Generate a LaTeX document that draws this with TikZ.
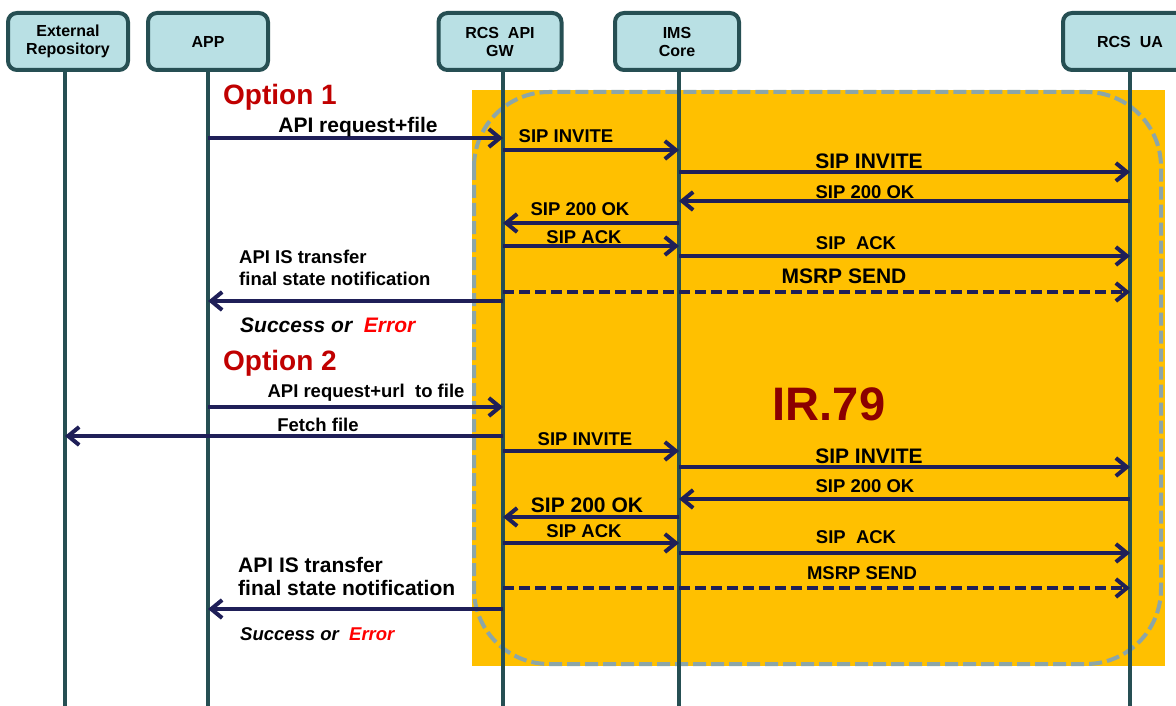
\documentclass[tikz,border=0pt]{standalone}
\usepackage{fontspec}
\setmainfont{Liberation Sans}
\usetikzlibrary{arrows.meta}
\definecolor{lifeteal}{HTML}{264F53}
\definecolor{actorblue}{HTML}{B9E0E4}
\definecolor{msgnavy}{HTML}{1F1F58}
\definecolor{zoneorange}{HTML}{FFC000}
\definecolor{zonegray}{HTML}{8CA6A8}
\definecolor{optred}{HTML}{C00000}
\definecolor{errred}{HTML}{FF0000}
\definecolor{irred}{HTML}{8B0000}

\begin{document}
\begin{tikzpicture}[x=1pt,y=-1pt,
    actor/.style={
      rectangle,
      draw=lifeteal,
      fill=actorblue,
      line width=4pt,
      rounded corners=9pt,
      minimum height=57pt,
      align=center,
      font=\fontsize{16}{18}\selectfont\bfseries
    },
    lifeline/.style={draw=lifeteal, line width=4pt},
    msg/.style={draw=msgnavy, line width=4pt, -{Straight Barb[length=11pt,width=18pt]}},
    async/.style={msg, dash pattern=on 11pt off 5pt},
    lbl/.style={inner sep=0pt, anchor=base, font=\fontsize{18.5}{22}\selectfont\bfseries},
    biglbl/.style={lbl, font=\fontsize{21}{25}\selectfont\bfseries},
    note/.style={lbl, anchor=base west},
    option/.style={inner sep=0pt, anchor=base west, text=optred,
      font=\fontsize{28}{32}\selectfont\bfseries}]
    \clip (0,0) rectangle (1176,706);

    % IR.79 zone
    \fill[zoneorange] (472,90) rectangle (1165,666);
    \draw[zonegray, line width=4pt, dash pattern=on 13pt off 5pt, rounded corners=75pt]
      (474,92) rectangle (1161,664);
    \node[inner sep=0pt, anchor=base, text=irred, font=\fontsize{47}{50}\selectfont\bfseries]
      (ir) at (829,420) {IR.79};

    % actors and lifelines
    \node[actor, minimum width=120pt] (ext) at (68,41.5) {External\\Repository};
    \node[actor, minimum width=120pt] (app) at (208,41.5) {APP};
    \node[actor, minimum width=123pt] (gw) at (500,41.5) {RCS\ \ API\\GW};
    \node[actor, minimum width=124pt] (ims) at (677,41.5) {IMS\\Core};
    \node[actor, minimum width=134pt] (ua) at (1130,41.5) {RCS\ \ UA};
    \coordinate (extl) at (65,70);
    \coordinate (gwl) at (503,70);
    \coordinate (imsl) at (679,70);
    \draw[lifeline] (extl) -- (extl |- 0,706);
    \draw[lifeline] (app.south) -- (app |- 0,706);
    \draw[lifeline] (gwl) -- (gwl |- 0,706);
    \draw[lifeline] (imsl) -- (imsl |- 0,706);
    \draw[lifeline] (ua.south) -- (ua |- 0,706);

    % option 1
    \node[option] (opt1) at (223,105) {Option 1};
    \draw[msg] (app |- 0,138) -- (gwl |- 0,138);
    \node[biglbl] (req1) at (358,133) {API request+file};
    \draw[msg] (gwl |- 0,150) -- (imsl |- 0,150);
    \node[lbl] (inv1a) at (566,143) {SIP INVITE};
    \draw[msg] (imsl |- 0,172) -- (ua |- 0,172);
    \node[biglbl] (inv1b) at (869,169) {SIP INVITE};
    \draw[msg] (ua |- 0,201) -- (imsl |- 0,201);
    \node[lbl] (ok1b) at (865,198) {SIP 200 OK};
    \draw[msg] (imsl |- 0,223) -- (gwl |- 0,223);
    \node[lbl] (ok1a) at (580,215) {SIP 200 OK};
    \draw[msg] (gwl |- 0,246) -- (imsl |- 0,246);
    \node[lbl] (ack1a) at (584,243) {SIP ACK};
    \draw[msg] (imsl |- 0,256) -- (ua |- 0,256);
    \node[lbl] (ack1b) at (856,249) {SIP\ \ ACK};
    \draw[async] (gwl |- 0,292) -- (ua |- 0,292);
    \node[biglbl] (msrp1) at (844,283) {MSRP SEND};
    \draw[msg] (gwl |- 0,301) -- (app |- 0,301);
    \node[note] (notif1a) at (239,263) {API IS transfer};
    \node[note] (notif1b) at (239,285) {final state notification};
    \node[note, font=\fontsize{21}{25}\selectfont\bfseries\itshape] (res1) at (240,332)
      {Success or\ \ \textcolor{errred}{Error}};

    % option 2
    \node[option] (opt2) at (223,370) {Option 2};
    \draw[msg] (app |- 0,407) -- (gwl |- 0,407);
    \node[lbl] (req2) at (366,397) {API request+url\ \ to file};
    \draw[msg] (gwl |- 0,436) -- (extl |- 0,436);
    \node[lbl] (fetch) at (318,431) {Fetch file};
    \draw[msg] (gwl |- 0,451) -- (imsl |- 0,451);
    \node[lbl] (inv2a) at (585,445) {SIP INVITE};
    \draw[msg] (imsl |- 0,467) -- (ua |- 0,467);
    \node[biglbl] (inv2b) at (869,463) {SIP INVITE};
    \draw[msg] (ua |- 0,499) -- (imsl |- 0,499);
    \node[lbl] (ok2b) at (865,492) {SIP 200 OK};
    \draw[msg] (imsl |- 0,517) -- (gwl |- 0,517);
    \node[biglbl] (ok2a) at (587,512) {SIP 200 OK};
    \draw[msg] (gwl |- 0,543) -- (imsl |- 0,543);
    \node[lbl] (ack2a) at (584,537) {SIP ACK};
    \draw[msg] (imsl |- 0,553) -- (ua |- 0,553);
    \node[lbl] (ack2b) at (856,543) {SIP\ \ ACK};
    \draw[async] (gwl |- 0,588) -- (ua |- 0,588);
    \node[lbl] (msrp2) at (862,579) {MSRP SEND};
    \draw[msg] (gwl |- 0,609) -- (app |- 0,609);
    \node[note, font=\fontsize{21}{25}\selectfont\bfseries] (notif2a) at (238,572) {API IS transfer};
    \node[note, font=\fontsize{21}{25}\selectfont\bfseries] (notif2b) at (238,595) {final state notification};
    \node[note, font=\fontsize{18.5}{22}\selectfont\bfseries\itshape] (res2) at (240,640)
      {Success or\ \ \textcolor{errred}{Error}};
  \end{tikzpicture}
\end{document}
